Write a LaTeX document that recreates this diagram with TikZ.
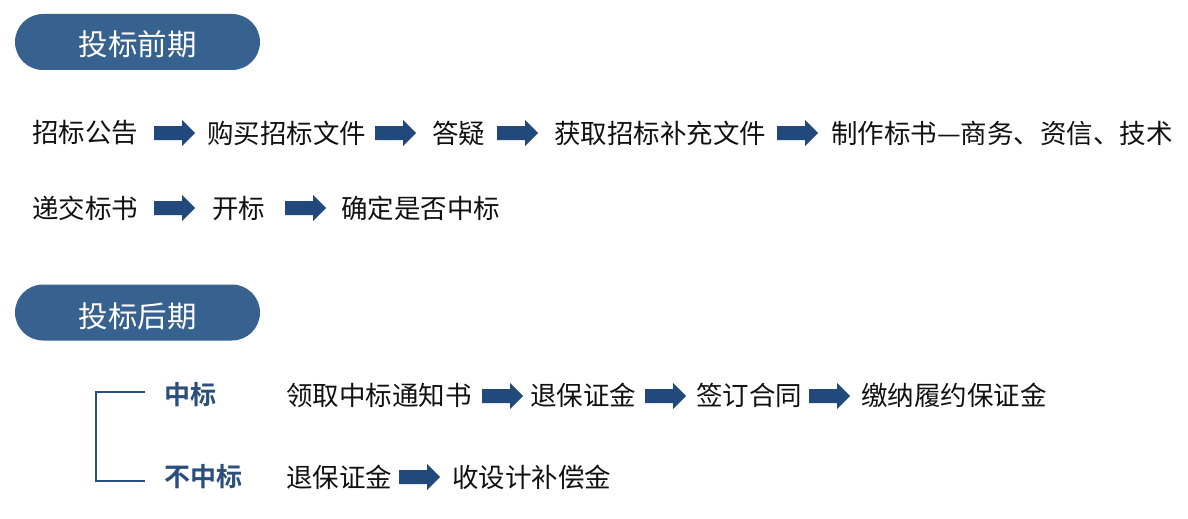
\documentclass[tikz,border=0pt]{standalone}
\usepackage{fontspec}
\setmainfont{Noto Sans CJK SC}
\newfontfamily\cjk{Noto Sans CJK SC}
\newfontfamily\cjkb{Noto Sans CJK SC Bold}
\definecolor{pillblue}{HTML}{37618F}
\definecolor{arrblue}{HTML}{22497C}
\definecolor{lblblue}{HTML}{2B4F7D}
\definecolor{txt}{HTML}{111111}
\newcommand\lowertext[2]{\raisebox{0pt}[\dimexpr\height+#1\relax]{#2}}
\tikzset{
  x=1pt,y=-1pt,
  pill/.style={fill=pillblue,rounded corners=28pt,minimum width=245pt,minimum height=56pt,
    text=white,font=\cjk\fontsize{29.5}{29.5}\selectfont,inner sep=0pt},
  item/.style={anchor=west,inner sep=0pt,text=txt,font=\cjk\fontsize{26.5}{26.5}\selectfont},
  lbl/.style={anchor=west,inner sep=0pt,text=lblblue,font=\cjkb\fontsize{26}{26}\selectfont},
  bracket/.style={draw=lblblue,line width=2.6pt},
  pics/barrow/.style={code={
    \fill[arrblue] (0,-7) -- (28,-7) -- (28,-13) -- (41,0) -- (28,13) -- (28,7) -- (0,7) -- cycle;
  }}
}
\begin{document}
\begin{tikzpicture}
\useasboundingbox (0,0) rectangle (1188,519);
% pills
\node[pill] (p1) at (137.5,42) {\lowertext{5pt}{投标前期}};
\node[pill] (p2) at (137.5,312.5) {\lowertext{7pt}{投标后期}};
% row 1
\node[item] (a1) at (32,133) {招标公告};
\pic at (154,133) {barrow};
\node[item] (a2) at (207,133) {购买招标文件};
\pic at (375,133) {barrow};
\node[item] (a3) at (432,133) {答疑};
\pic at (497,133) {barrow};
\node[item] (a4) at (554,133) {获取招标补充文件};
\pic at (777,133) {barrow};
\node[item] (a5) at (831,133) {制作标书—商务、资信、技术};
% row 2
\node[item] (b1) at (32,208) {递交标书};
\pic at (154,208) {barrow};
\node[item] (b2) at (212,208) {开标};
\pic at (285,208) {barrow};
\node[item] (b3) at (341,208) {确定是否中标};
% bracket
\coordinate (bt) at (145,392);
\coordinate (bb) at (145,481);
\draw[bracket] (bt) -- (96,392) -- (96,481) -- (bb);
\node[lbl] (w) at (164,395) {中标};
\node[lbl] (l) at (164,477) {不中标};
% row 3
\node[item] (c1) at (286,395) {领取中标通知书};
\pic at (482,396) {barrow};
\node[item] (c2) at (530,395) {退保证金};
\pic at (645,396) {barrow};
\node[item] (c3) at (696,395) {签订合同};
\pic at (809,396) {barrow};
\node[item] (c4) at (861,395) {缴纳履约保证金};
% row 4
\node[item] (d1) at (286,477) {退保证金};
\pic at (399,477) {barrow};
\node[item] (d2) at (452,477) {收设计补偿金};
\end{tikzpicture}
\end{document}
